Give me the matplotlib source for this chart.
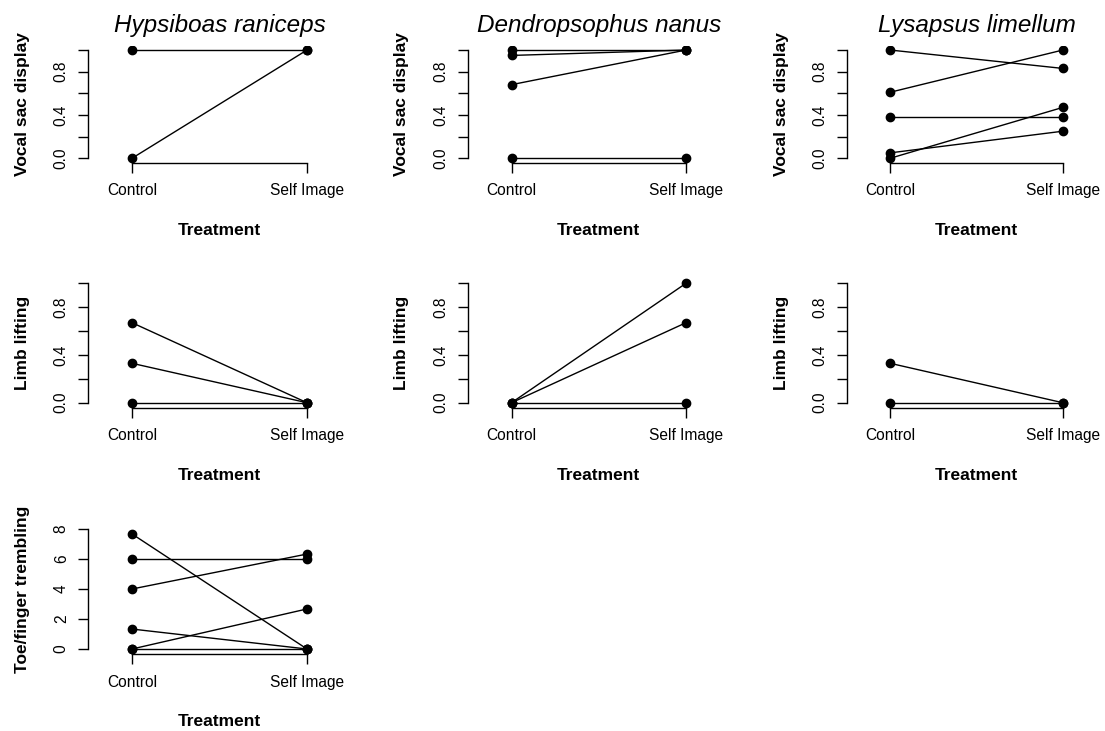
import matplotlib
matplotlib.use("Agg")
import matplotlib.pyplot as plt

plt.rcParams["font.family"] = ["Liberation Sans", "DejaVu Sans"]

W, H = 1105, 731

species = ["Hypsiboas raniceps", "Dendropsophus nanus", "Lysapsus limellum"]
treatments = ["Control", "Self Image"]

# paired values per individual: control -> self image
hr_vocal_ctrl = [1.0, 0.0]
hr_vocal_self = [1.0, 1.0]
dn_vocal_ctrl = [1.0, 0.95, 0.68, 0.0]
dn_vocal_self = [1.0, 1.0, 1.0, 0.0]
ll_vocal_ctrl = [1.0, 0.61, 0.38, 0.05, 0.0]
ll_vocal_self = [0.83, 1.0, 0.38, 0.25, 0.47]

hr_limb_ctrl = [0.67, 0.33, 0.0]
hr_limb_self = [0.0, 0.0, 0.0]
dn_limb_ctrl = [0.0, 0.0, 0.0]
dn_limb_self = [1.0, 0.67, 0.0]
ll_limb_ctrl = [0.33, 0.0]
ll_limb_self = [0.0, 0.0]

hr_toe_ctrl = [7.67, 6.0, 4.0, 1.33, 0.0, 0.0]
hr_toe_self = [0.0, 6.0, 6.33, 0.0, 2.67, 0.0]

panels = [
    (0, 0, "Vocal sac display", hr_vocal_ctrl, hr_vocal_self),
    (0, 1, "Vocal sac display", dn_vocal_ctrl, dn_vocal_self),
    (0, 2, "Vocal sac display", ll_vocal_ctrl, ll_vocal_self),
    (1, 0, "Limb lifting", hr_limb_ctrl, hr_limb_self),
    (1, 1, "Limb lifting", dn_limb_ctrl, dn_limb_self),
    (1, 2, "Limb lifting", ll_limb_ctrl, ll_limb_self),
    (2, 0, "Toe/finger trembling", hr_toe_ctrl, hr_toe_self),
]

# plot regions in pixels (left, top, width, height)
col_box = [(88.25, 262.5), (467.9, 261.75), (847.0, 259.0)]
row_box = [(45.7, 116.9), (278.5, 129.0), (524.2, 129.6)]

fig = plt.figure(figsize=(W / 100, H / 100), dpi=100)

for r, c, ylab, ctrl, selfimg in panels:
    left, w = col_box[c]
    top, h = row_box[r]
    ax = fig.add_axes([left / W, 1 - (top + h) / H, w / W, h / H])
    for a, b in zip(ctrl, selfimg):
        ax.plot([1, 2], [a, b], color="black", lw=1.0, marker="o", ms=6,
                solid_capstyle="butt")
    ax.set_xlim(0.75, 2.25)
    if r < 2:
        ax.set_ylim(-0.04, 1.04)
        ax.set_yticks([0, 0.2, 0.4, 0.6, 0.8, 1.0])
        ax.set_yticklabels(["0.0", "", "0.4", "", "0.8", ""])
        ax.spines["left"].set_bounds(0, 1)
    else:
        ax.set_ylim(-0.32, 8.32)
        ax.set_yticks([0, 2, 4, 6, 8])
        ax.set_yticklabels(["0", "2", "4", "6", "8"])
        ax.spines["left"].set_bounds(0, 8)
    ax.set_xticks([1, 2])
    ax.set_xticklabels(treatments)
    ax.spines["bottom"].set_bounds(1, 2)
    ax.spines["top"].set_visible(False)
    ax.spines["right"].set_visible(False)
    for s in ("left", "bottom"):
        ax.spines[s].set_linewidth(1.0)
    ax.tick_params(axis="both", length=7, width=1.0, labelsize=11.2, colors="black")
    ax.tick_params(axis="x", pad=8)
    ax.tick_params(axis="y", pad=7)
    for t in ax.get_yticklabels():
        t.set_rotation(90)
        t.set_va("center")

    ax.set_xlabel("Treatment", fontsize=12.5, fontweight="bold")
    ax.xaxis.set_label_coords(0.5, -68 / h)
    ax.xaxis.label.set_va("center")
    ax.set_ylabel(ylab, fontsize=12.5, fontweight="bold")
    ax.yaxis.set_label_coords(-66 / w, 0.5)
    ax.yaxis.label.set_va("center")

    if r == 0:
        ax.set_title(species[c], fontsize=17.5, style="italic", pad=10)

fig.savefig("out.png", dpi=100)
